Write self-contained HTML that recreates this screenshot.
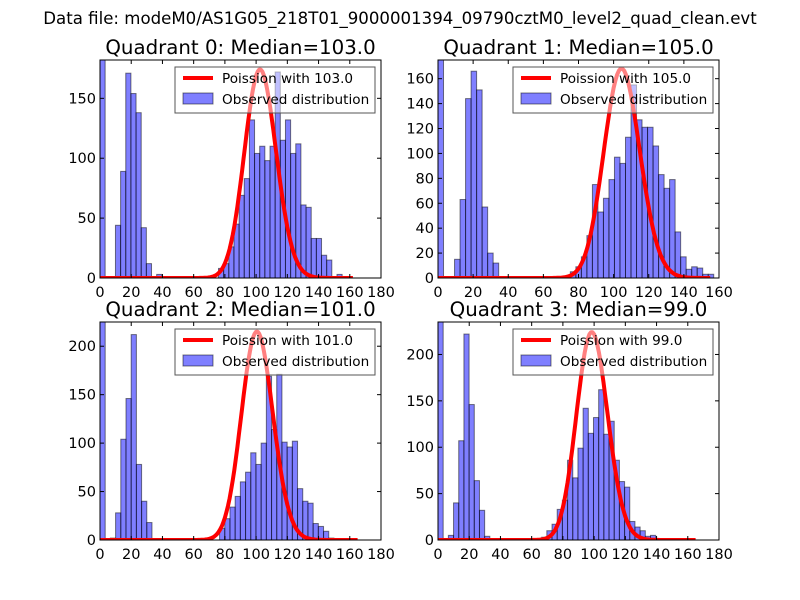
<!DOCTYPE html>
<html><head><meta charset="utf-8"><style>
body{margin:0;background:#fff;}
svg{display:block;font-family:"DejaVu Sans","Liberation Sans",sans-serif;}
</style></head><body>
<svg id="fig" width="800" height="600" viewBox="0 0 800 600">
<rect width="800" height="600" fill="#fff"/>
<text x="400" y="24" text-anchor="middle" font-size="16.6">Data file: modeM0/AS1G05_218T01_9000001394_09790cztM0_level2_quad_clean.evt</text>
</svg>
<script>
// ---- data ----
const quadrantNames = ["Quadrant 0","Quadrant 1","Quadrant 2","Quadrant 3"];
const medians = [103.0, 105.0, 101.0, 99.0];
const binWidths = [3.3, 3.14, 3.33, 3.32];
const q0Counts = [182,0,0,44,89,171,154,138,42,12,0,3,0,0,0,0,0,0,0,0,1,0,0,8,12,26,45,69,83,132,104,110,98,110,172,115,132,104,112,61,59,33,33,19,15,1,3,1];
const q1Counts = [176,0,0,15,63,144,166,151,57,20,12,0,0,0,0,0,0,0,0,0,0,0,0,0,5,9,17,34,75,53,64,79,97,92,113,155,127,121,121,106,83,72,79,37,17,7,9,8,3,3];
const q2Counts = [226,0,2,28,104,146,212,78,40,18,0,0,0,0,0,0,0,0,0,0,0,0,0,12,22,34,45,60,70,90,78,100,169,114,171,101,96,102,53,40,38,17,14,9,2,1];
const q3Counts = [236,0,5,40,107,222,146,64,32,4,0,0,0,0,0,1,0,0,0,0,3,10,17,33,43,86,67,99,142,115,132,162,114,128,86,63,57,20,14,10,4,5,1];
const curvePeaks = [174, 168, 215, 224];
const curveEnds = [162, 155, 165, 165];
const xMaxes = [180, 160, 180, 180];
const yMaxes = [182, 175, 225, 235];
const xTickLabels = [[0,20,40,60,80,100,120,140,160,180],[0,20,40,60,80,100,120,140,160],[0,20,40,60,80,100,120,140,160,180],[0,20,40,60,80,100,120,140,160,180]];
const yTickLabels = [[0,50,100,150],[0,20,40,60,80,100,120,140,160],[0,50,100,150,200],[0,50,100,150,200]];
const allCounts = [q0Counts,q1Counts,q2Counts,q3Counts];

const NS="http://www.w3.org/2000/svg";
const fig=document.getElementById('fig');
function mk(tag,attrs,parent){const e=document.createElementNS(NS,tag);for(const k in attrs)e.setAttribute(k,attrs[k]);(parent||fig).appendChild(e);return e;}
function logPmf(k,lam){let lf=0;for(let i=2;i<=k;i++)lf+=Math.log(i);return k*Math.log(lam)-lam-lf;}

const boxes=[{l:100,t:60,r:381,b:278},{l:438,t:60,r:719,b:278},{l:100,t:322,r:381,b:540},{l:438,t:322,r:719,b:540}];

for(let q=0;q<4;q++){
  const B=boxes[q];
  const g=mk('g',{});
  
  
  const xs=v=>B.l+v/xMaxes[q]*(B.r-B.l);
  const ys=v=>B.b-Math.min(v,yMaxes[q]*1.01)/yMaxes[q]*(B.b-B.t);
  const clipId='clip'+q;
  const cp=mk('clipPath',{id:clipId},g);mk('rect',{x:B.l,y:B.t,width:B.r-B.l,height:B.b-B.t},cp);
  const data=mk('g',{'clip-path':'url(#'+clipId+')'},g);
  const counts=allCounts[q],w=binWidths[q];
  counts.forEach((c,i)=>{
    if(c<=0)return;
    const r=mk('rect',{x:xs(i*w),y:ys(c),width:xs((i+1)*w)-xs(i*w),height:B.b-ys(c),fill:'rgba(0,0,255,0.5)',stroke:'rgba(0,0,0,0.5)','stroke-width':1},data);
    
    
  });
  const lam=medians[q];const mode=Math.floor(lam);const lp0=logPmf(mode,lam);
  let d='';
  for(let k=0;k<=curveEnds[q];k++){const v=curvePeaks[q]*Math.exp(logPmf(k,lam)-lp0);d+=(k?'L':'M')+xs(k).toFixed(1)+','+ys(v).toFixed(1);}
  const pl=mk('path',{d:d,fill:'none',stroke:'#ff0000','stroke-width':4,'stroke-linejoin':'round'},data);
  
  
  const fr=mk('rect',{x:B.l,y:B.t,width:B.r-B.l,height:B.b-B.t,fill:'none',stroke:'#000','stroke-width':1},g);
  
  
  xTickLabels[q].forEach(v=>{
    const x=xs(v);
    mk('line',{x1:x,y1:B.b,x2:x,y2:B.b-4,stroke:'#000'},g);
    mk('line',{x1:x,y1:B.t,x2:x,y2:B.t+4,stroke:'#000'},g);
    const t=mk('text',{x:x,y:B.b+19,'text-anchor':'middle','font-size':14.5},g);t.textContent=v;
    
    
  });
  yTickLabels[q].forEach(v=>{
    const y=ys(v);
    mk('line',{x1:B.l,y1:y,x2:B.l+4,y2:y,stroke:'#000'},g);
    mk('line',{x1:B.r,y1:y,x2:B.r-4,y2:y,stroke:'#000'},g);
    const t=mk('text',{x:B.l-4,y:y+5,'text-anchor':'end','font-size':14.5},g);t.textContent=v;
    
    
  });
  const tt=mk('text',{x:(B.l+B.r)/2,y:B.t-6,'text-anchor':'middle','font-size':19.8},g);
  tt.textContent=quadrantNames[q]+': Median='+medians[q].toFixed(1);
  
  
  const lx=B.r-206,ly=B.t+7;
  const lg=mk('g',{},g);
  
  
  mk('rect',{x:lx,y:ly,width:200,height:46,fill:'rgba(255,255,255,0.5)',stroke:'#555','stroke-width':1},lg);
  mk('line',{x1:lx+8,y1:ly+11,x2:lx+38,y2:ly+11,stroke:'#ff0000','stroke-width':4},lg);
  const t1=mk('text',{x:lx+47,y:ly+16,'font-size':13.6},lg);t1.textContent='Poission with '+medians[q].toFixed(1);
  
  
  mk('rect',{x:lx+8,y:ly+26,width:30,height:11,fill:'rgba(0,0,255,0.5)',stroke:'rgba(0,0,0,0.5)'},lg);
  const t2=mk('text',{x:lx+47,y:ly+37,'font-size':13.6},lg);t2.textContent='Observed distribution';
  
  
}
</script>
</body></html>
